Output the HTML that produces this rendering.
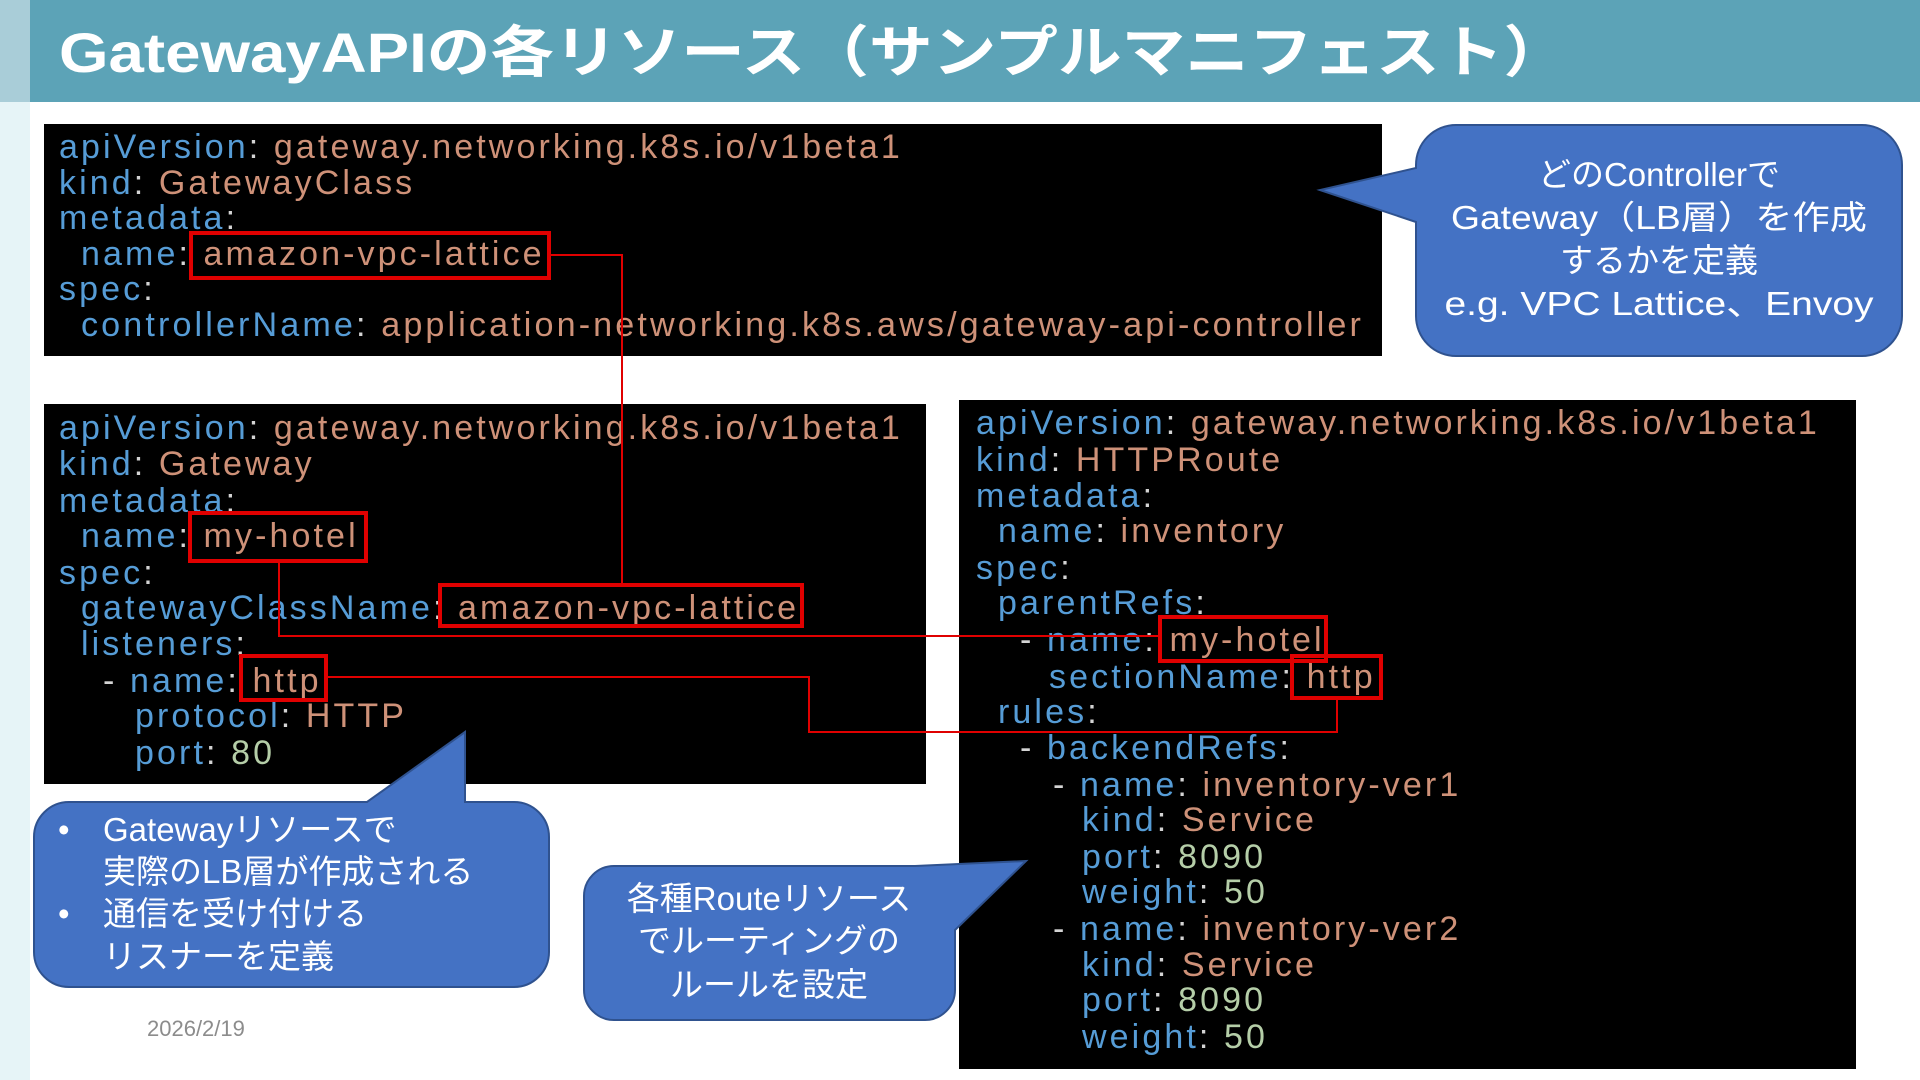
<!DOCTYPE html>
<html><head><meta charset="utf-8"><style>
html,body{margin:0;padding:0;background:#fff;}
svg{display:block;}
.c{font-family:"Liberation Sans","Noto Sans CJK JP",sans-serif;font-size:34px;letter-spacing:3.1px;}
.k{fill:#569cd6}.v{fill:#ce9178}.n{fill:#b5cea8}.w{fill:#d4d4d4}
.j{font-family:"Liberation Sans","Noto Sans CJK JP",sans-serif;font-size:33px;fill:#fff;}
</style></head><body>
<svg width="1920" height="1080" viewBox="0 0 1920 1080" xmlns="http://www.w3.org/2000/svg">
<rect width="1920" height="1080" fill="#fff"/>
<rect x="0" y="102" width="30" height="978" fill="#e6f4f7"/>
<rect x="0" y="0" width="1920" height="102" fill="#5ca3b7"/>
<rect x="0" y="0" width="30" height="102" fill="#a9cdd8"/>
<text x="59" y="72" font-family="'Liberation Sans','Noto Sans CJK JP',sans-serif" font-size="56" font-weight="bold" fill="#fff" textLength="1508" lengthAdjust="spacingAndGlyphs">GatewayAPIの各リソース（サンプルマニフェスト）</text>

<!-- Box1 -->
<rect x="44" y="124" width="1338" height="232" fill="#000"/>
<g class="c">
<text x="59" y="158"><tspan class="k">apiVersion</tspan><tspan class="w">: </tspan><tspan class="v">gateway.networking.k8s.io/v1beta1</tspan></text>
<text x="59" y="194"><tspan class="k">kind</tspan><tspan class="w">: </tspan><tspan class="v">GatewayClass</tspan></text>
<text x="59" y="229"><tspan class="k">metadata</tspan><tspan class="w">:</tspan></text>
<text x="81" y="265"><tspan class="k">name</tspan><tspan class="w">: </tspan><tspan class="v">amazon-vpc-lattice</tspan></text>
<text x="59" y="300"><tspan class="k">spec</tspan><tspan class="w">:</tspan></text>
<text x="81" y="336" textLength="1283" lengthAdjust="spacingAndGlyphs"><tspan class="k">controllerName</tspan><tspan class="w">: </tspan><tspan class="v">application-networking.k8s.aws/gateway-api-controller</tspan></text>
</g>

<!-- Box2 -->
<rect x="44" y="404" width="882" height="380" fill="#000"/>
<g class="c">
<text x="59" y="439"><tspan class="k">apiVersion</tspan><tspan class="w">: </tspan><tspan class="v">gateway.networking.k8s.io/v1beta1</tspan></text>
<text x="59" y="475"><tspan class="k">kind</tspan><tspan class="w">: </tspan><tspan class="v">Gateway</tspan></text>
<text x="59" y="512"><tspan class="k">metadata</tspan><tspan class="w">:</tspan></text>
<text x="81" y="547"><tspan class="k">name</tspan><tspan class="w">: </tspan><tspan class="v">my-hotel</tspan></text>
<text x="59" y="584"><tspan class="k">spec</tspan><tspan class="w">:</tspan></text>
<text x="81" y="619"><tspan class="k">gatewayClassName</tspan><tspan class="w">: </tspan><tspan class="v">amazon-vpc-lattice</tspan></text>
<text x="81" y="655"><tspan class="k">listeners</tspan><tspan class="w">:</tspan></text>
<text x="103" y="692"><tspan class="w">- </tspan><tspan class="k">name</tspan><tspan class="w">: </tspan><tspan class="v">http</tspan></text>
<text x="135" y="727"><tspan class="k">protocol</tspan><tspan class="w">: </tspan><tspan class="v">HTTP</tspan></text>
<text x="135" y="764"><tspan class="k">port</tspan><tspan class="w">: </tspan><tspan class="n">80</tspan></text>
</g>

<!-- Box3 -->
<rect x="959" y="400" width="897" height="669" fill="#000"/>
<g class="c">
<text x="976" y="434"><tspan class="k">apiVersion</tspan><tspan class="w">: </tspan><tspan class="v">gateway.networking.k8s.io/v1beta1</tspan></text>
<text x="976" y="471"><tspan class="k">kind</tspan><tspan class="w">: </tspan><tspan class="v">HTTPRoute</tspan></text>
<text x="976" y="507"><tspan class="k">metadata</tspan><tspan class="w">:</tspan></text>
<text x="998" y="542"><tspan class="k">name</tspan><tspan class="w">: </tspan><tspan class="v">inventory</tspan></text>
<text x="976" y="579"><tspan class="k">spec</tspan><tspan class="w">:</tspan></text>
<text x="998" y="614"><tspan class="k">parentRefs</tspan><tspan class="w">:</tspan></text>
<text x="1020" y="651"><tspan class="w">- </tspan><tspan class="k">name</tspan><tspan class="w">: </tspan><tspan class="v">my-hotel</tspan></text>
<text x="1049" y="688"><tspan class="k">sectionName</tspan><tspan class="w">: </tspan><tspan class="v">http</tspan></text>
<text x="998" y="723"><tspan class="k">rules</tspan><tspan class="w">:</tspan></text>
<text x="1020" y="759"><tspan class="w">- </tspan><tspan class="k">backendRefs</tspan><tspan class="w">:</tspan></text>
<text x="1053" y="796"><tspan class="w">- </tspan><tspan class="k">name</tspan><tspan class="w">: </tspan><tspan class="v">inventory-ver1</tspan></text>
<text x="1082" y="831"><tspan class="k">kind</tspan><tspan class="w">: </tspan><tspan class="v">Service</tspan></text>
<text x="1082" y="868"><tspan class="k">port</tspan><tspan class="w">: </tspan><tspan class="n">8090</tspan></text>
<text x="1082" y="903"><tspan class="k">weight</tspan><tspan class="w">: </tspan><tspan class="n">50</tspan></text>
<text x="1053" y="940"><tspan class="w">- </tspan><tspan class="k">name</tspan><tspan class="w">: </tspan><tspan class="v">inventory-ver2</tspan></text>
<text x="1082" y="976"><tspan class="k">kind</tspan><tspan class="w">: </tspan><tspan class="v">Service</tspan></text>
<text x="1082" y="1011"><tspan class="k">port</tspan><tspan class="w">: </tspan><tspan class="n">8090</tspan></text>
<text x="1082" y="1048"><tspan class="k">weight</tspan><tspan class="w">: </tspan><tspan class="n">50</tspan></text>
</g>

<!-- red boxes and connectors -->
<g fill="none" stroke="#e00000">
<rect x="191" y="233" width="358" height="45" stroke-width="4"/>
<rect x="190" y="513" width="176" height="48" stroke-width="4"/>
<rect x="440" y="585" width="362" height="41" stroke-width="4"/>
<rect x="241" y="656" width="85" height="44" stroke-width="4"/>
<rect x="1160" y="617" width="166" height="44" stroke-width="4"/>
<rect x="1292" y="656" width="89" height="42" stroke-width="4"/>
<polyline points="549,255 622,255 622,585" stroke-width="2"/>
<polyline points="279,561 279,636 1160,636" stroke-width="2"/>
<polyline points="326,677 809,677 809,732 1337,732 1337,698" stroke-width="2"/>
</g>

<!-- callouts -->
<path d="M1456,125 H1862 A40,40 0 0 1 1902,165 V316 A40,40 0 0 1 1862,356 H1456 A40,40 0 0 1 1416,316 V222 L1320,190 L1416,168 V165 A40,40 0 0 1 1456,125 Z" fill="#4472c4" stroke="#2f528f" stroke-width="2"/>
<g class="j" text-anchor="middle">
<text x="1659" y="186">どのControllerで</text>
<text x="1659" y="229" textLength="416" lengthAdjust="spacingAndGlyphs">Gateway（LB層）を作成</text>
<text x="1659" y="272">するかを定義</text>
<text x="1659" y="315" textLength="429" lengthAdjust="spacingAndGlyphs">e.g. VPC Lattice、Envoy</text>
</g>

<path d="M69,802 H367 L465,732 V802 H514 A35,35 0 0 1 549,837 V952 A35,35 0 0 1 514,987 H69 A35,35 0 0 1 34,952 V837 A35,35 0 0 1 69,802 Z" fill="#4472c4" stroke="#2f528f" stroke-width="2"/>
<g class="j">
<text x="58" y="841">•</text>
<text x="103" y="841">Gatewayリソースで</text>
<text x="103" y="883">実際のLB層が作成される</text>
<text x="58" y="925">•</text>
<text x="103" y="925">通信を受け付ける</text>
<text x="103" y="968">リスナーを定義</text>
</g>

<path d="M614,866 H915 L1026,861 L955,930 V990 A30,30 0 0 1 925,1020 H614 A30,30 0 0 1 584,990 V896 A30,30 0 0 1 614,866 Z" fill="#4472c4" stroke="#2f528f" stroke-width="2"/>
<g class="j" text-anchor="middle">
<text x="769" y="910">各種Routeリソース</text>
<text x="769" y="952">でルーティングの</text>
<text x="769" y="996">ルールを設定</text>
</g>

<text x="147" y="1036" font-family="'Liberation Sans',sans-serif" font-size="22" fill="#8c8c8c">2026/2/19</text>
</svg>
</body></html>
